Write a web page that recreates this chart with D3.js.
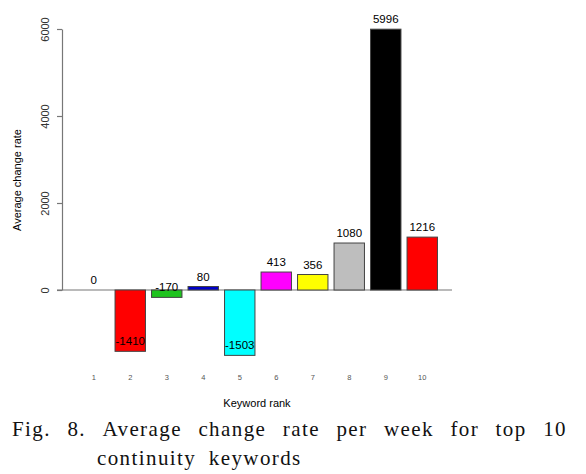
<!DOCTYPE html>
<html>
<head>
<meta charset="utf-8">
<script src="https://cdn.jsdelivr.net/npm/d3@7"></script>
<style>
  html, body { margin: 0; padding: 0; background: #fff; }
  svg { display: block; }
</style>
</head>
<body>
<svg id="chart" width="586" height="474"></svg>
<script>
const categories = ["1", "2", "3", "4", "5", "6", "7", "8", "9", "10"];
const values = [0, -1410, -170, 80, -1503, 413, 356, 1080, 5996, 1216];
const barColors = ["#000000", "#ff0000", "#1ec31e", "#0000c8", "#00ffff", "#ff00ff", "#ffff00", "#bebebe", "#000000", "#ff0000"];
const yTicks = [0, 2000, 4000, 6000];
const yTitle = "Average change rate";
const xTitle = "Keyword rank";
const captionLine1 = ["Fig.", "8.", "Average", "change", "rate", "per", "week", "for", "top", "10"];
const captionLine2 = "continuity keywords";

const svg = d3.select("#chart");

const x = d3.scaleBand()
  .domain(categories)
  .range([75.5, 440.5])
  .paddingInner(1 / 6)
  .paddingOuter(1 / 12);

const y = d3.scaleLinear().domain([0, 6000]).range([290, 29]);

// baseline
svg.append("line")
  .attr("x1", 57).attr("x2", 452)
  .attr("y1", y(0)).attr("y2", y(0))
  .attr("stroke", "#777").attr("stroke-width", 1.2);

// y axis
const yAxis = svg.append("g")
  .attr("transform", "translate(62,0)")
  .call(d3.axisLeft(y).tickValues(yTicks).tickSize(5).tickSizeOuter(0).tickFormat(d3.format("d")));
yAxis.select(".domain").attr("stroke", "#777").attr("stroke-width", 1.2);
yAxis.selectAll(".tick line").attr("stroke", "#777").attr("stroke-width", 1.2);
yAxis.selectAll(".tick text")
  .attr("font-family", "Liberation Sans, Arial, sans-serif")
  .attr("font-size", 11)
  .attr("fill", "#333")
  .attr("x", null).attr("dy", null)
  .attr("text-anchor", "middle")
  .attr("dominant-baseline", "central")
  .attr("transform", "translate(-17,0) rotate(-90)");

// bars
svg.append("g").selectAll("rect")
  .data(values)
  .join("rect")
  .attr("x", (d, i) => x(categories[i]))
  .attr("width", x.bandwidth())
  .attr("y", d => y(Math.max(0, d)))
  .attr("height", d => Math.abs(y(d) - y(0)))
  .attr("fill", (d, i) => barColors[i])
  .attr("stroke", "#444")
  .attr("stroke-width", 1);

// value labels
svg.append("g").selectAll("text")
  .data(values)
  .join("text")
  .attr("x", (d, i) => x(categories[i]) + x.bandwidth() / 2)
  .attr("y", d => y(d) - 10)
  .attr("text-anchor", "middle")
  .attr("dominant-baseline", "central")
  .attr("font-family", "Liberation Sans, Arial, sans-serif")
  .attr("font-size", 11.5)
  .attr("fill", "#000")
  .text(d => d);

// x category labels
svg.append("g").selectAll("text")
  .data(categories)
  .join("text")
  .attr("x", d => x(d) + x.bandwidth() / 2)
  .attr("y", 377)
  .attr("text-anchor", "middle")
  .attr("dominant-baseline", "central")
  .attr("font-family", "Liberation Sans, Arial, sans-serif")
  .attr("font-size", 7.5)
  .attr("fill", "#555")
  .text(d => d);

// axis titles
svg.append("text")
  .attr("x", 257).attr("y", 403)
  .attr("text-anchor", "middle")
  .attr("dominant-baseline", "central")
  .attr("font-family", "Liberation Sans, Arial, sans-serif")
  .attr("font-size", 11)
  .attr("fill", "#000")
  .text(xTitle);

svg.append("text")
  .attr("transform", "translate(17,180) rotate(-90)")
  .attr("text-anchor", "middle")
  .attr("dominant-baseline", "central")
  .attr("font-family", "Liberation Sans, Arial, sans-serif")
  .attr("font-size", 11)
  .attr("fill", "#000")
  .text(yTitle);

// caption, line 1 justified between 12 and 567
const capFont = { family: "Liberation Serif, Times New Roman, serif", size: 21, spacing: 1.4 };
const capG = svg.append("g");
const words = capG.selectAll("text")
  .data(captionLine1)
  .join("text")
  .attr("y", 436)
  .attr("font-family", capFont.family)
  .attr("font-size", capFont.size)
  .attr("letter-spacing", capFont.spacing)
  .attr("fill", "#111")
  .text(d => d);
const widths = [];
words.each(function () { widths.push(this.getComputedTextLength()); });
const left = 12, right = 567;
const total = d3.sum(widths);
const gap = (right - left - total) / (captionLine1.length - 1);
let cx = left;
words.each(function (d, i) {
  d3.select(this).attr("x", cx);
  cx += widths[i] + gap;
});

svg.append("text")
  .attr("x", 97).attr("y", 465)
  .attr("font-family", capFont.family)
  .attr("font-size", capFont.size)
  .attr("letter-spacing", capFont.spacing)
  .attr("word-spacing", 6)
  .attr("fill", "#111")
  .text(captionLine2);
</script>
</body>
</html>
